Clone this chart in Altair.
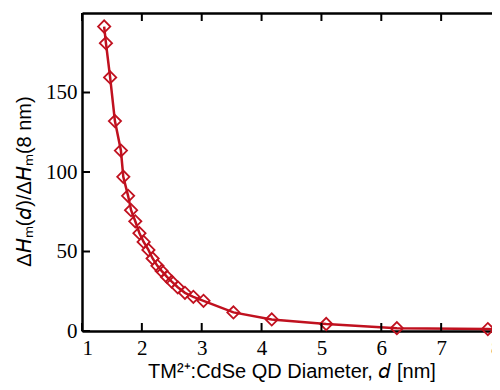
import altair as alt
import pandas as pd

diameter = [1.37, 1.40, 1.47, 1.55, 1.65, 1.69, 1.77, 1.82, 1.89, 1.96, 2.03, 2.11,
            2.18, 2.26, 2.33, 2.42, 2.50, 2.60, 2.72, 2.86, 3.03, 3.53, 4.17, 5.08,
            6.26, 7.78, 8.00]
ratio = [191.5, 181.0, 159.5, 132.0, 113.5, 97.0, 85.0, 76.0, 69.0, 61.5, 56.0, 51.0,
         45.6, 41.0, 37.8, 34.0, 31.0, 27.5, 24.0, 21.5, 19.0, 11.7, 7.3, 4.4,
         1.8, 1.2, 1.0]

x_ticks = [1, 2, 3, 4, 5, 6, 7, 8]
y_ticks = [0, 50, 100, 150]
x_min, x_max = 1, 8
y_min, y_max = 0, 200

df = pd.DataFrame({"d": diameter, "r": ratio})
RED = "#c0111f"

xs = alt.Scale(domain=[x_min, x_max], nice=False, zero=False)
ys = alt.Scale(domain=[y_min, y_max], nice=False)

common_axis = dict(domainColor="black", domainWidth=2.5, ticks=False, grid=False,
                   labelFont="Liberation Serif", labelFontSize=21, labelColor="black",
                   titleFont="Liberation Sans", titleFontSize=20,
                   titleFontWeight="normal", titleColor="black")

xaxis = alt.Axis(values=x_ticks, title="TM²⁺:CdSe QD Diameter, 𝘥 [nm]",
                 labelPadding=6, titlePadding=3, **common_axis)
yaxis = alt.Axis(values=y_ticks, title="Δ𝘏ₘ(𝘥)/Δ𝘏ₘ(8 nm)",
                 labelPadding=5, titlePadding=11, titleY=168, **common_axis)

base = alt.Chart(df)

line = base.mark_line(color=RED, strokeWidth=2.5, clip=False).encode(
    x=alt.X("d:Q", scale=xs, axis=xaxis),
    y=alt.Y("r:Q", scale=ys, axis=yaxis),
)
pts = base.mark_point(shape="diamond", color=RED, filled=False, size=150, opacity=1,
                      strokeWidth=1.8, clip=False).encode(
    x=alt.X("d:Q", scale=xs, axis=None),
    y=alt.Y("r:Q", scale=ys, axis=None),
)

frame_axis = dict(labels=False, title=None, domainColor="black", domainWidth=2.5,
                  ticks=False, grid=False)
top_right = base.mark_point(opacity=0).encode(
    x=alt.X("d:Q", scale=xs, axis=alt.Axis(orient="top", **frame_axis)),
    y=alt.Y("r:Q", scale=ys, axis=alt.Axis(orient="right", **frame_axis)),
)

xt = pd.DataFrame({"x": x_ticks})
yt = pd.DataFrame({"y": y_ticks})
tick_style = dict(color="black", thickness=2, size=8, opacity=1)
bottom_ticks = alt.Chart(xt).mark_tick(orient="vertical", yOffset=-4, **tick_style).encode(
    x=alt.X("x:Q", scale=xs, axis=None), y=alt.datum(y_min, scale=ys, axis=None))
top_ticks = alt.Chart(xt).mark_tick(orient="vertical", yOffset=4, **tick_style).encode(
    x=alt.X("x:Q", scale=xs, axis=None), y=alt.datum(y_max, scale=ys, axis=None))
left_ticks = alt.Chart(yt).mark_tick(orient="horizontal", xOffset=4, **tick_style).encode(
    y=alt.Y("y:Q", scale=ys, axis=None), x=alt.datum(x_min, scale=xs, axis=None))
right_ticks = alt.Chart(yt).mark_tick(orient="horizontal", xOffset=-4, **tick_style).encode(
    y=alt.Y("y:Q", scale=ys, axis=None), x=alt.datum(x_max, scale=xs, axis=None))

chart = alt.layer(line, pts, top_right, bottom_ticks, top_ticks, left_ticks, right_ticks
                  ).resolve_axis(x="independent", y="independent").properties(
    width=419, height=318,
    autosize=alt.AutoSizeParams(type="none"),
    padding={"left": 74, "top": 5, "right": -9, "bottom": 51},
).configure_view(stroke=None).configure(background="white")

chart.save("out.html", embed_options={"renderer": "svg", "actions": False})
